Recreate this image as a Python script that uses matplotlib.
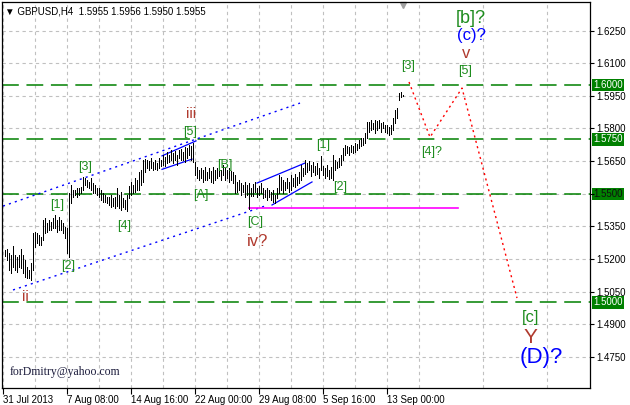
import matplotlib
matplotlib.use("Agg")
import matplotlib.pyplot as plt
import numpy as np

plt.rcParams['font.family'] = ['Liberation Sans', 'DejaVu Sans']

# H4 bars (high / low)
highs = [1.5241, 1.5246, 1.5227, 1.5218, 1.5259, 1.5218, 1.5209, 1.5218, 1.5246, 1.5218,
         1.5195, 1.5163, 1.5149, 1.5181, 1.5319, 1.5324, 1.5319, 1.5310, 1.5300, 1.5379,
         1.5388, 1.5365, 1.5379, 1.5370, 1.5388, 1.5402, 1.5379, 1.5393, 1.5379, 1.5365,
         1.5347, 1.5342, 1.5503, 1.5540, 1.5517, 1.5517, 1.5526, 1.5526, 1.5530, 1.5576,
         1.5572, 1.5563, 1.5553, 1.5572, 1.5549, 1.5540, 1.5526, 1.5526, 1.5517, 1.5503,
         1.5494, 1.5485, 1.5485, 1.5494, 1.5480, 1.5485, 1.5526, 1.5494, 1.5508, 1.5480,
         1.5471, 1.5494, 1.5535, 1.5553, 1.5540, 1.5572, 1.5563, 1.5599, 1.5609, 1.5655,
         1.5659, 1.5655, 1.5650, 1.5664, 1.5645, 1.5655, 1.5641, 1.5664, 1.5655, 1.5678,
         1.5668, 1.5691, 1.5678, 1.5701, 1.5687, 1.5696, 1.5678, 1.5701, 1.5705, 1.5691,
         1.5714, 1.5710, 1.5724, 1.5719, 1.5733, 1.5645, 1.5622, 1.5609, 1.5618, 1.5609,
         1.5622, 1.5599, 1.5618, 1.5604, 1.5622, 1.5609, 1.5618, 1.5622, 1.5609, 1.5632,
         1.5618, 1.5609, 1.5618, 1.5604, 1.5599, 1.5586, 1.5553, 1.5563, 1.5549, 1.5540,
         1.5553, 1.5540, 1.5549, 1.5526, 1.5544, 1.5553, 1.5526, 1.5535, 1.5549, 1.5526,
         1.5517, 1.5526, 1.5517, 1.5508, 1.5517, 1.5494, 1.5526, 1.5586, 1.5576, 1.5563,
         1.5553, 1.5572, 1.5553, 1.5586, 1.5572, 1.5590, 1.5576, 1.5599, 1.5632, 1.5618,
         1.5655, 1.5641, 1.5650, 1.5632, 1.5645, 1.5627, 1.5641, 1.5618, 1.5673, 1.5627,
         1.5618, 1.5632, 1.5609, 1.5622, 1.5678, 1.5655, 1.5645, 1.5664, 1.5678, 1.5710,
         1.5724, 1.5719, 1.5714, 1.5724, 1.5719, 1.5733, 1.5728, 1.5747, 1.5756, 1.5756,
         1.5779, 1.5829, 1.5829, 1.5839, 1.5825, 1.5839, 1.5834, 1.5839, 1.5825, 1.5829,
         1.5816, 1.5816, 1.5807, 1.5816, 1.5848, 1.5885, 1.5894, 1.5963, 1.5968, 1.5956]
lows = [1.5213, 1.5195, 1.5149, 1.5135, 1.5163, 1.5149, 1.5140, 1.5163, 1.5158, 1.5135,
        1.5117, 1.5112, 1.5112, 1.5103, 1.5149, 1.5255, 1.5273, 1.5264, 1.5264, 1.5287,
        1.5319, 1.5324, 1.5333, 1.5333, 1.5342, 1.5342, 1.5324, 1.5333, 1.5333, 1.5319,
        1.5296, 1.5227, 1.5209, 1.5457, 1.5485, 1.5494, 1.5485, 1.5494, 1.5503, 1.5517,
        1.5540, 1.5530, 1.5526, 1.5517, 1.5503, 1.5503, 1.5494, 1.5485, 1.5471, 1.5462,
        1.5462, 1.5457, 1.5448, 1.5439, 1.5443, 1.5434, 1.5443, 1.5434, 1.5425, 1.5439,
        1.5430, 1.5420, 1.5480, 1.5494, 1.5503, 1.5508, 1.5517, 1.5517, 1.5540, 1.5553,
        1.5599, 1.5618, 1.5609, 1.5618, 1.5609, 1.5613, 1.5609, 1.5618, 1.5627, 1.5632,
        1.5627, 1.5641, 1.5645, 1.5655, 1.5641, 1.5655, 1.5632, 1.5664, 1.5655, 1.5655,
        1.5645, 1.5664, 1.5678, 1.5655, 1.5645, 1.5586, 1.5572, 1.5563, 1.5572, 1.5553,
        1.5563, 1.5563, 1.5572, 1.5553, 1.5549, 1.5563, 1.5572, 1.5581, 1.5563, 1.5586,
        1.5563, 1.5572, 1.5553, 1.5563, 1.5549, 1.5503, 1.5508, 1.5517, 1.5494, 1.5508,
        1.5485, 1.5494, 1.5429, 1.5489, 1.5489, 1.5508, 1.5485, 1.5494, 1.5503, 1.5480,
        1.5485, 1.5471, 1.5485, 1.5471, 1.5462, 1.5457, 1.5480, 1.5503, 1.5517, 1.5503,
        1.5517, 1.5526, 1.5508, 1.5517, 1.5535, 1.5530, 1.5540, 1.5549, 1.5563, 1.5581,
        1.5590, 1.5599, 1.5609, 1.5581, 1.5599, 1.5586, 1.5590, 1.5572, 1.5609, 1.5586,
        1.5572, 1.5581, 1.5567, 1.5572, 1.5563, 1.5609, 1.5618, 1.5622, 1.5632, 1.5655,
        1.5678, 1.5687, 1.5678, 1.5691, 1.5687, 1.5691, 1.5701, 1.5710, 1.5719, 1.5724,
        1.5733, 1.5756, 1.5783, 1.5793, 1.5797, 1.5779, 1.5793, 1.5802, 1.5783, 1.5802,
        1.5783, 1.5779, 1.5770, 1.5774, 1.5793, 1.5825, 1.5848, 1.5931, 1.5945, 1.5950]
bars = np.arange(1, len(highs) + 1)

levels = [1.6000, 1.5750, 1.5500, 1.5000]
price_ticks = [1.6250, 1.6100, 1.5950, 1.5800, 1.5650, 1.5500, 1.5350, 1.5200, 1.5050, 1.4900, 1.4750]
date_pos = [0, 32, 64, 96, 128, 160, 192]
date_labels = ['31 Jul 2013', '7 Aug 08:00', '14 Aug 16:00', '22 Aug 00:00',
               '29 Aug 08:00', '5 Sep 16:00', '13 Sep 00:00']

green = '#1e8c1e'
brown = '#b03a2e'
blue = '#0000ff'
# wave marks: text, bar, price, colour, font size
waves = [
    ('ii', 11, 1.5025, brown, 11),
    ('[1]', 27, 1.5448, green, 9),
    ('[2]', 32.5, 1.5167, green, 9),
    ('[3]', 41, 1.5623, green, 9),
    ('[4]', 60.5, 1.5351, green, 9),
    ('[5]', 93.5, 1.5784, green, 9),
    ('iii', 94, 1.5867, brown, 11),
    ('[A]', 99, 1.5494, green, 9),
    ('[B]', 111, 1.5632, green, 9),
    ('[C]', 126, 1.5370, green, 9),
    ('iv?', 127.5, 1.5278, brown, 12),
    ('[1]', 160, 1.5724, green, 9),
    ('[2]', 168.5, 1.5531, green, 9),
    ('[3]', 202.5, 1.6088, green, 9),
    ('[4]?', 214.5, 1.5692, green, 9),
    ('[5]', 231, 1.6064, green, 9),
    ('v', 231.5, 1.6143, brown, 12),
    ('(c)?', 234, 1.6226, blue, 12),
    ('[b]?', 234, 1.6304, green, 13),
    ('[c]', 264, 1.4932, green, 12),
    ('Y', 263.5, 1.4840, brown, 15),
    ('(D)?', 269, 1.4748, blue, 16),
]

# expected path
proj_x = [203, 213.5, 229.5, 257]
proj_y = [1.6014, 1.5760, 1.5986, 1.5020]

# channels: bar0, price0, bar1, price1
dotted_channels = [(0, 1.5443, 148.5, 1.5917), (5, 1.5057, 132.5, 1.5448)]
solid_channels = [(79.5, 1.5674, 96.5, 1.5743), (79.5, 1.5612, 94.5, 1.5659),
                  (127, 1.5549, 151, 1.5641), (134.5, 1.5448, 154.5, 1.5554)]
support_bars = [123, 227.5]
support_price = 1.5434

fig = plt.figure(figsize=(6.3, 4.05), dpi=100)
ax = fig.add_axes([2 / 630, 17 / 405, 588 / 630, 386 / 405])
ax.set_xlim(-0.5, 293.5)
ax.set_ylim(1.4606, 1.6382)

ax.set_xticks(date_pos)
ax.set_xticklabels(date_labels)
ax.set_xticks(np.arange(16, 294, 32), minor=True)
for lbl in ax.get_xticklabels():
    lbl.set_horizontalalignment('left')
ax.set_yticks(price_ticks)
# the 1.5500 tick sits under the level box
ax.set_yticklabels(['' if p in levels else '%.4f' % p for p in price_ticks])
ax.yaxis.tick_right()
ax.tick_params(axis='y', direction='out', length=3, pad=1.5, labelsize=7)
ax.tick_params(axis='x', which='major', direction='out', length=4, pad=1, labelsize=7)
ax.tick_params(axis='x', which='minor', length=0)
ax.grid(which='both', color='#c0c0c0', linestyle=(0, (3, 3)), linewidth=0.8)
for s in ax.spines.values():
    s.set_linewidth(0.9)

for lv in levels:
    ax.axhline(lv, color='#008000', lw=1.1, dashes=(11, 5), zorder=2)
    tc = '#101010' if lv in price_ticks else 'white'
    ax.annotate('%.4f' % lv, xy=(1, lv), xycoords=('axes fraction', 'data'),
                xytext=(2.5, 0), textcoords='offset points', ha='left', va='center',
                color=tc, fontsize=7, zorder=1, annotation_clip=False,
                bbox=dict(boxstyle='square,pad=0.12', fc='#008000', ec='none'))

ax.vlines(bars, lows, highs, color='black', linewidth=0.72, antialiased=False, zorder=3)

for x0, p0, x1, p1 in dotted_channels:
    ax.plot([x0, x1], [p0, p1], color=blue, lw=1, linestyle=(0, (1.5, 3)), zorder=2)
for x0, p0, x1, p1 in solid_channels:
    ax.plot([x0, x1], [p0, p1], color=blue, lw=0.9, zorder=2)
ax.plot(support_bars, [support_price, support_price], color='#ff00ff', lw=1.2, zorder=2)
ax.plot(proj_x, proj_y, color='#ff0000', lw=1, linestyle=(0, (1.5, 2.5)), zorder=2)

for txt, b, p, c, fs in waves:
    ax.text(b, p, txt, ha='center', va='center', color=c, fontsize=fs, zorder=4)

ax.plot(200, 1.6368, marker='v', color='#a0a0a0', ms=5, clip_on=False)

fig.text(5 / 630, 1 - 11 / 405, '\u25bc GBPUSD,H4  1.5955 1.5956 1.5950 1.5955',
         fontsize=7, va='center')
fig.text(10 / 630, 1 - 372 / 405, 'forDmitry@yahoo.com', family='Liberation Serif',
         fontsize=8.5, color='#1c1c3c', va='center')

fig.savefig('out.png', dpi=100)
